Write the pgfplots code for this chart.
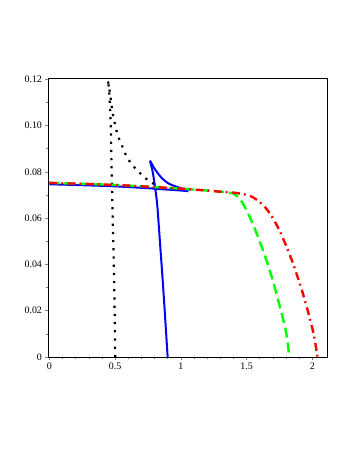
\documentclass[border=0pt]{standalone}
\usepackage{pgfplots}
\pgfplotsset{compat=1.18}
\usepackage{fontspec}
\setmainfont{Liberation Serif}
\begin{document}
\begin{tikzpicture}
\useasboundingbox (-48bp,-101bp) rectangle (306bp,357bp);
\begin{axis}[
  at={(0,0)}, anchor=south west,
  scale only axis, width=279bp, height=279bp,
  xmin=-0.01, xmax=2.112, ymin=0, ymax=0.1205,
  xtick={0,0.5,1,1.5,2}, xticklabels={0,0.5,1,1.5,2},
  ytick={0,0.02,0.04,0.06,0.08,0.10,0.12},
  yticklabels={0,0.02,0.04,0.06,0.08,0.10,0.12},
  minor x tick num=4, minor y tick num=1,
  tick align=outside, tick pos=left,
  major tick length=2.5bp, minor tick length=1.5bp,
  tick style={gray, line width=0.5bp},
  axis line style={black, line width=0.8bp},
  tick label style={font=\fontsize{10}{12}\selectfont},
  /pgf/number format/assume math mode=true,
  clip=true,
]
% blue solid
\addplot[blue, line width=2bp, smooth] coordinates {
 (0,0.0746) (0.25,0.0742) (0.5,0.0737) (0.75,0.0729) (0.9,0.0723) (1.0,0.0719) (1.057,0.0716)};
\addplot[blue, line width=2bp, smooth] coordinates {
 (1.057,0.0716) (1.03,0.0724) (0.969,0.0735) (0.905,0.0750) (0.855,0.0773) (0.817,0.0800) (0.790,0.0823) (0.766,0.0848)};
\addplot[blue, line width=2bp, smooth] coordinates {
 (0.766,0.0848) (0.777,0.0822) (0.788,0.0795) (0.800,0.0750) (0.810,0.0710) (0.822,0.0650) (0.841,0.050) (0.862,0.0334) (0.881,0.017) (0.900,0)};
% black dotted
\addplot[black, line width=2.2bp, dash pattern=on 2.2bp off 6bp, smooth] coordinates {
 (0.501,0) (0.499,0.010) (0.496,0.022) (0.492,0.036) (0.487,0.048) (0.482,0.060) (0.478,0.0713) (0.475,0.0787) (0.472,0.0860) (0.470,0.0931) (0.467,0.1003) (0.462,0.1076) (0.455,0.1150) (0.447,0.1190)};
\addplot[black, line width=2.2bp, dash pattern=on 2.2bp off 6bp, smooth] coordinates {
 (0.447,0.1190) (0.457,0.1155) (0.467,0.1115) (0.478,0.1065) (0.490,0.1030) (0.512,0.0975) (0.530,0.0943) (0.555,0.0910) (0.581,0.0874) (0.614,0.0842) (0.652,0.0816) (0.697,0.0790) (0.745,0.0766) (0.80,0.0746) (0.84,0.0737)};
% green dashed
\addplot[green, line width=2.4bp, dash pattern=on 10bp off 5bp, smooth] coordinates {
 (0,0.0752) (0.25,0.0748) (0.5,0.0743) (0.77,0.0735) (1.0,0.0727) (1.2,0.0719) (1.3,0.0714) (1.37,0.0710) (1.40,0.0706) (1.45,0.0682) (1.50,0.0634) (1.55,0.0572) (1.60,0.0500) (1.65,0.0420) (1.70,0.0330) (1.75,0.0225) (1.80,0.0110) (1.825,0)};
% red dash-dot
\addplot[red, line width=2.4bp, dash pattern=on 8bp off 4bp on 1.8bp off 4.5bp, smooth] coordinates {
 (0,0.0752) (0.25,0.0748) (0.5,0.0743) (0.77,0.0735) (1.0,0.0727) (1.2,0.0719) (1.3,0.0714) (1.40,0.0710) (1.47,0.0704) (1.53,0.0695) (1.58,0.0678) (1.64,0.0648) (1.70,0.0600) (1.76,0.0535) (1.84,0.0425) (1.912,0.0305) (1.967,0.0197) (2.01,0.0100) (2.04,0)};
\end{axis}
\end{tikzpicture}
\end{document}
